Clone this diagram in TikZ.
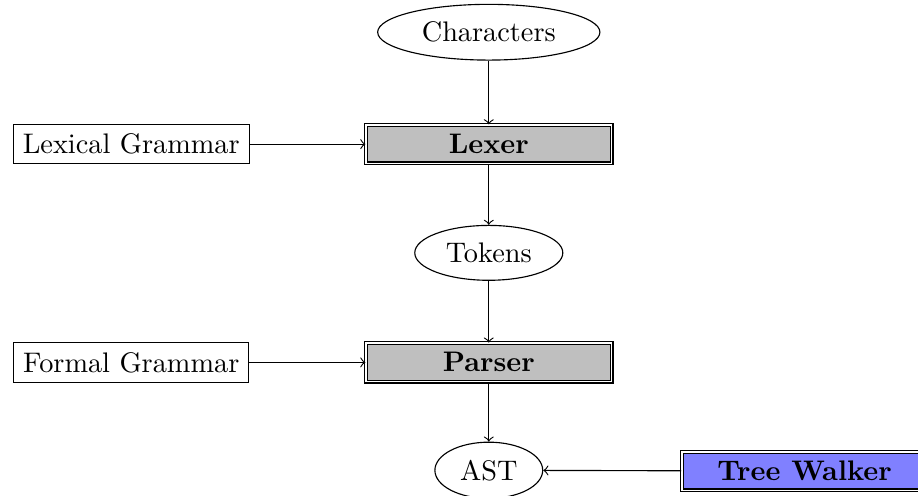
\documentclass[tikz,border=0pt]{standalone}
\usepackage{tikz}
\usetikzlibrary{shapes.geometric}

\begin{document}
\begin{tikzpicture}[
  x=1cm,
  y=1cm,
  font=\fontsize{10}{12}\selectfont,
  data/.style={draw,ellipse,inner sep=3.33pt},
  source/.style={draw,rectangle},
  stage/.style={draw,double,rectangle,fill=black!25,minimum width=3.05cm,
    font=\fontsize{10}{12}\selectfont\bfseries},
  flow/.style={->}
]
  \useasboundingbox (0,0) rectangle (11.40,-6.15);

  % main pipeline
  \node[data,minimum width=2.76cm] (chars) at (6.07,-0.40) {Characters};
  \node[stage] (lexer) at (6.07,-1.79) {Lexer};
  \node[data] (tokens) at (6.07,-3.14) {Tokens};
  \node[stage] (parser) at (6.07,-4.50) {Parser};
  \node[data] (ast) at (6.07,-5.84) {AST};

  % inputs on the sides
  \node[source] (lexgram) at (1.63,-1.79) {Lexical Grammar};
  \node[source] (formgram) at (1.63,-4.50) {Formal Grammar};
  \node[stage,fill=blue!50] (walker) at (9.99,-5.85) {Tree Walker};

  \draw[flow] (chars) -- (lexer);
  \draw[flow] (lexgram) -- (lexer);
  \draw[flow] (lexer) -- (tokens);
  \draw[flow] (tokens) -- (parser);
  \draw[flow] (formgram) -- (parser);
  \draw[flow] (parser) -- (ast);
  \draw[flow] (walker) -- (ast);
\end{tikzpicture}
\end{document}
